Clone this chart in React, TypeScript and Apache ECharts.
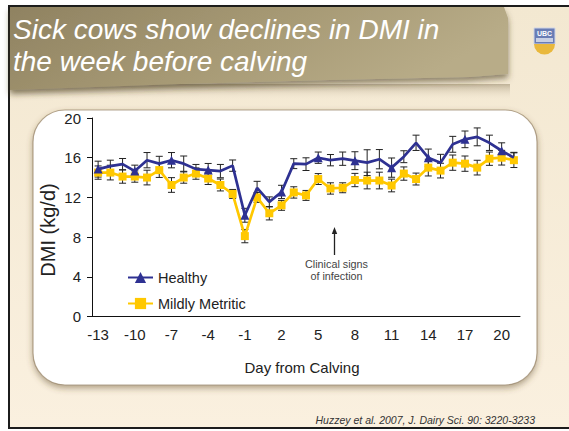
import React, { useEffect, useRef } from "react";
import * as echarts from "echarts";

const days = ["-13","-12","-11","-10","-9","-8","-7","-6","-5","-4","-3","-2","-1","0","1","2","3","4","5","6","7","8","9","10","11","12","13","14","15","16","17","18","19","20","21"];

const healthy = [14.85, 15.15, 15.35, 14.65, 15.75, 15.4, 15.75, 15.4, 14.85, 14.75, 14.65, 15.2, 10.2,
  12.95, 11.55, 12.55, 15.4, 15.35, 16.0, 15.75, 15.9, 15.7, 15.5, 15.85, 15.0, 16.1, 17.5, 16.0, 15.5, 17.35, 17.85, 18.1, 17.5, 16.7, 16.0];
const healthyErr = [0.8, 0.6, 0.57, 0.6, 0.77, 0.74, 0.77, 0.77, 0.47, 0.67, 0.67, 0.57, 0.7,
  0.67, 0.5, 0.67, 0.5, 0.64, 0.57, 0.57, 0.67, 0.9, 1.3, 0.97, 0.97, 0.6, 0.77, 0.87, 0.84, 0.8, 0.84, 0.9, 0.77, 0.8, 0.54];

const metritic = [14.5, 14.5, 14.1, 14.1, 14.0, 14.75, 13.25, 14.0, 14.4, 13.9, 13.25, 12.35, 8.1,
  12.0, 10.4, 11.2, 12.5, 12.2, 13.85, 12.9, 12.97, 13.75, 13.7, 13.7, 13.2, 14.4, 13.85, 15.0, 14.7, 15.5, 15.4, 15.0, 15.9, 16.0, 15.75];
const metriticErr = [0.67, 0.74, 0.67, 0.57, 0.74, 0.74, 0.74, 0.57, 0.57, 0.6, 0.6, 0.45, 0.67,
  0.5, 0.67, 0.5, 0.57, 0.5, 0.55, 0.57, 0.5, 0.67, 0.84, 0.84, 0.64, 0.67, 0.6, 0.84, 0.74, 0.77, 0.77, 0.74, 0.67, 0.74, 0.74];

const yTicks = { min: 0, max: 20, interval: 4 };

const FONT = "'Liberation Sans', Arial, Helvetica, sans-serif";

function errorRender(params: any, api: any) {
  const i = api.value(0);
  const v = api.value(1);
  const e = api.value(2);
  const top = api.coord([i, v + e]);
  const bot = api.coord([i, v - e]);
  const hw = 3.5;
  const st = { stroke: "#222", lineWidth: 1 };
  return {
    type: "group",
    children: [
      { type: "line", shape: { x1: top[0], y1: top[1], x2: bot[0], y2: bot[1] }, style: st },
      { type: "line", shape: { x1: top[0] - hw, y1: top[1], x2: top[0] + hw, y2: top[1] }, style: st },
      { type: "line", shape: { x1: bot[0] - hw, y1: bot[1], x2: bot[0] + hw, y2: bot[1] }, style: st },
    ],
  };
}

export default function App() {
  const ref = useRef<HTMLDivElement>(null);
  useEffect(() => {
    const chart = echarts.init(ref.current as HTMLDivElement, null, { renderer: "svg" });
    const option: any = {
      animation: false,
      backgroundColor: "#ffffff",
      textStyle: { fontFamily: FONT },
      grid: { left: 92, right: 49, top: 118, bottom: 114.5, containLabel: false },
      legend: {
        data: ["Healthy", "Mildly Metritic"],
        orient: "vertical",
        left: 122,
        top: 265,
        itemWidth: 25,
        itemHeight: 14,
        itemGap: 11,
        textStyle: { fontSize: 14.5, color: "#222", fontFamily: FONT },
      },
      xAxis: {
        type: "category",
        data: days,
        boundaryGap: true,
        axisLine: { lineStyle: { color: "#111", width: 1 } },
        axisTick: { interval: 0, length: 4, lineStyle: { color: "#111" } },
        axisLabel: { interval: 2, fontSize: 15, color: "#222", margin: 10, fontFamily: FONT },
        splitLine: { show: false },
      },
      yAxis: {
        type: "value",
        min: yTicks.min,
        max: yTicks.max,
        interval: yTicks.interval,
        axisLine: { show: true, lineStyle: { color: "#111", width: 1 } },
        axisTick: { show: true, length: 5, lineStyle: { color: "#111" } },
        axisLabel: { fontSize: 15, color: "#222", margin: 11, fontFamily: FONT },
        splitLine: { show: false },
      },
      series: [
        {
          name: "hErr",
          type: "custom",
          renderItem: errorRender,
          data: healthy.map((v, i) => [i, v, healthyErr[i]]),
          encode: { x: 0, y: 1 },
          z: 2,
          silent: true,
        },
        {
          name: "mErr",
          type: "custom",
          renderItem: errorRender,
          data: metritic.map((v, i) => [i, v, metriticErr[i]]),
          encode: { x: 0, y: 1 },
          z: 2,
          silent: true,
        },
        {
          name: "Mildly Metritic",
          type: "line",
          data: metritic,
          symbol: "rect",
          symbolSize: 8,
          z: 3,
          lineStyle: { color: "#FFC800", width: 2.7 },
          itemStyle: { color: "#FFC800" },
        },
        {
          name: "Healthy",
          type: "line",
          data: healthy,
          symbol: "triangle",
          symbolSize: 9,
          z: 4,
          lineStyle: { color: "#2E3192", width: 2.7 },
          itemStyle: { color: "#2E3192" },
        },
      ],
      graphic: [
        {
          type: "rect",
          z: -20,
          shape: { x: 9, y: 6, width: 580, height: 422 },
          style: {
            fill: new echarts.graphic.LinearGradient(0, 0, 0, 1, [
              { offset: 0, color: "#F3E8D1" },
              { offset: 1, color: "#FAF0DF" },
            ]),
            stroke: "#1c1c1c",
            lineWidth: 2,
          },
        },
        {
          type: "rect",
          z: -19,
          shape: { x: 10, y: 84, width: 500, height: 16 },
          style: {
            fill: new echarts.graphic.LinearGradient(0, 0, 0, 1, [
              { offset: 0, color: "rgba(150,135,105,0.55)" },
              { offset: 1, color: "rgba(240,230,210,0)" },
            ]),
          },
        },
        {
          type: "polygon",
          z: -18,
          shape: {
            points: [[10, 7], [504, 7], [508, 18], [508, 74], [470, 77], [330, 80], [180, 84], [10, 90]],
          },
          style: {
            fill: new echarts.graphic.LinearGradient(0, 0, 1, 0.3, [
              { offset: 0, color: "#8F8261" },
              { offset: 0.5, color: "#A59873" },
              { offset: 1, color: "#B8AC88" },
            ]),
            shadowBlur: 6,
            shadowOffsetY: 4,
            shadowColor: "rgba(70,58,35,0.6)",
          },
        },
        {
          type: "text",
          z: -17,
          x: 13,
          y: 29,
          style: {
            text: "Sick cows show declines in DMI in",
            fill: "#ffffff",
            font: `italic 28px ${FONT}`,
            textAlign: "left",
            textVerticalAlign: "middle",
          },
        },
        {
          type: "text",
          z: -17,
          x: 13,
          y: 61,
          style: {
            text: "the week before calving",
            fill: "#ffffff",
            font: `italic 28px ${FONT}`,
            textAlign: "left",
            textVerticalAlign: "middle",
          },
        },
        {
          type: "rect",
          z: -17,
          shape: { x: 534, y: 28, width: 21, height: 16 },
          style: { fill: "#6A7DB5", stroke: "#cfd5e6", lineWidth: 1 },
        },
        {
          type: "text",
          z: -16,
          x: 544.5,
          y: 33,
          style: { text: "UBC", fill: "#ffffff", font: `bold 7px ${FONT}`, textAlign: "center", textVerticalAlign: "middle" },
        },
        {
          type: "rect",
          z: -16,
          shape: { x: 536, y: 38, width: 17, height: 4 },
          style: { fill: "#c9d0e4" },
        },
        {
          type: "sector",
          z: -17,
          shape: { cx: 544.5, cy: 44, r0: 0, r: 10.5, startAngle: 0, endAngle: Math.PI },
          style: { fill: "#E9B83C" },
        },
        {
          type: "rect",
          z: -15,
          shape: { x: 33, y: 110, width: 504, height: 275, r: 32 },
          style: {
            fill: "#ffffff",
            stroke: "rgba(150,130,100,0.7)",
            lineWidth: 1.2,
            shadowBlur: 6,
            shadowOffsetY: 3,
            shadowColor: "rgba(90,70,40,0.45)",
          },
        },
        {
          type: "text",
          z: 5,
          x: 48,
          y: 230,
          rotation: Math.PI / 2,
          style: {
            text: "DMI (kg/d)",
            fill: "#222",
            font: `20px ${FONT}`,
            textAlign: "center",
            textVerticalAlign: "middle",
          },
        },
        {
          type: "text",
          z: 5,
          x: 302,
          y: 367,
          style: {
            text: "Day from Calving",
            fill: "#222",
            font: `15px ${FONT}`,
            textAlign: "center",
            textVerticalAlign: "middle",
          },
        },
        {
          type: "line",
          z: 5,
          shape: { x1: 334.5, y1: 255, x2: 334.5, y2: 231 },
          style: { stroke: "#222", lineWidth: 1.3 },
        },
        {
          type: "polygon",
          z: 5,
          shape: { points: [[334.5, 227], [331.8, 234], [337.2, 234]] },
          style: { fill: "#222" },
        },
        {
          type: "text",
          z: 5,
          x: 336.5,
          y: 264,
          style: {
            text: "Clinical signs",
            fill: "#444",
            font: `10.8px ${FONT}`,
            textAlign: "center",
            textVerticalAlign: "middle",
          },
        },
        {
          type: "text",
          z: 5,
          x: 336.5,
          y: 275.5,
          style: {
            text: "of infection",
            fill: "#444",
            font: `10.8px ${FONT}`,
            textAlign: "center",
            textVerticalAlign: "middle",
          },
        },
        {
          type: "text",
          z: 5,
          x: 535,
          y: 420,
          style: {
            text: "Huzzey et al. 2007, J. Dairy Sci. 90: 3220-3233",
            fill: "#333",
            font: `italic 10.5px ${FONT}`,
            textAlign: "right",
            textVerticalAlign: "middle",
          },
        },
      ],
    };
    chart.setOption(option);
    return () => chart.dispose();
  }, []);
  return <div ref={ref} style={{ position: "fixed", left: 0, top: 0, width: 569, height: 431 }} />;
}
